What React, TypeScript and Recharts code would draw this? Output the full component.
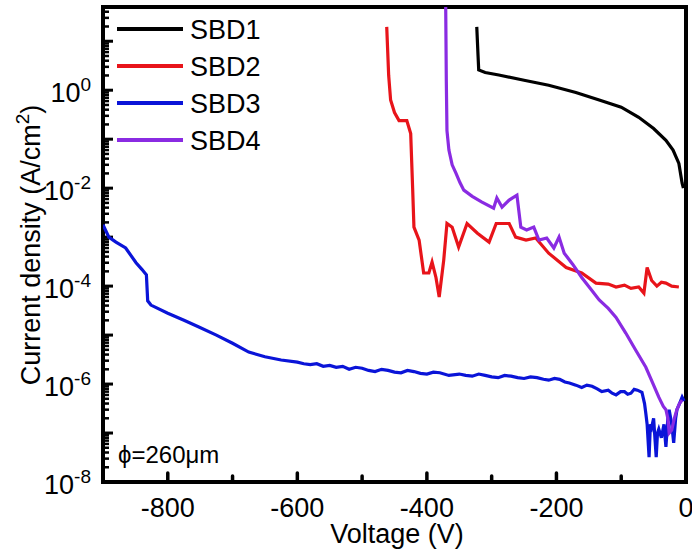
import React from 'react';
import {
  Customized,
  Line,
  LineChart,
  XAxis,
  YAxis,
} from 'recharts';

const seriesNames = ['SBD1', 'SBD2', 'SBD3', 'SBD4'];
const seriesColors = ['#000000', '#e8141a', '#0a14d8', '#8a2be2'];

const sbd1V = [-323, -321, -320, -310, -289, -250, -212, -170, -134, -100, -73, -50, -31, -20, -11, -6, -4];
const sbd1J = [19.6, 5, 2.6, 2.3, 2.04, 1.6, 1.26, 0.9, 0.63, 0.45, 0.28, 0.165, 0.095, 0.06, 0.032, 0.0126, 0.01];

const sbd2V = [-462, -459, -456, -450, -443, -431, -425, -422, -420, -412, -405, -397, -392, -386, -381, -374, -369, -361, -351, -338, -322, -304, -293, -273, -263, -247, -232, -212, -185, -161, -139, -120, -108, -95, -85, -73, -65, -60, -53, -45, -38, -31, -22, -11];
const sbd2J = [19.6, 2, 0.63, 0.35, 0.24, 0.24, 0.13, 0.01, 1.6e-3, 8.7e-4, 1.85e-4, 1.85e-4, 3.1e-4, 1.5e-4, 6e-5, 3.4e-4, 1.9e-3, 1.6e-3, 6.3e-4, 1.9e-3, 1.2e-3, 7.9e-4, 1.9e-3, 1.9e-3, 1e-3, 8.7e-4, 9.6e-4, 4.7e-4, 2.4e-4, 1.85e-4, 1.15e-4, 1.1e-4, 9.6e-5, 1.05e-4, 9e-5, 9.6e-5, 7.2e-5, 2.4e-4, 1.3e-4, 1e-4, 1.2e-4, 1.15e-4, 1e-4, 9.6e-5];

const sbd3V = [-900, -891, -880, -865, -849, -840, -836, -833, -831, -826, -800, -775, -752, -725, -700, -675, -650, -625, -600, -590, -580, -570, -560, -550, -540, -530, -520, -510, -500, -490, -480, -470, -460, -450, -440, -430, -420, -410, -400, -390, -380, -366, -350, -340, -330, -320, -310, -300, -290, -280, -270, -260, -250, -240, -230, -220, -212, -203, -195, -187, -180, -170, -161, -153, -145, -137, -130, -120, -114, -108, -101, -95, -90, -85, -80, -75, -68, -64, -62, -60, -57, -55, -53, -50, -46, -44, -42, -38, -34, -31, -28, -26, -22, -19, -16, -14, -10, -6, -3];
const sbd3J = [1.8e-3, 1e-3, 7.9e-4, 6e-4, 3e-4, 2.2e-4, 1.9e-4, 1.7e-4, 5e-5, 4.1e-5, 2.8e-5, 2e-5, 1.46e-5, 1e-5, 6.8e-6, 4.5e-6, 3.6e-6, 3.1e-6, 2.8e-6, 2.6e-6, 2.5e-6, 2.6e-6, 2.3e-6, 2.4e-6, 2.2e-6, 2.3e-6, 2e-6, 2.2e-6, 2.1e-6, 1.9e-6, 1.8e-6, 2e-6, 1.9e-6, 1.75e-6, 1.7e-6, 1.9e-6, 1.8e-6, 1.65e-6, 1.6e-6, 1.75e-6, 1.7e-6, 1.5e-6, 1.6e-6, 1.5e-6, 1.45e-6, 1.6e-6, 1.5e-6, 1.4e-6, 1.35e-6, 1.5e-6, 1.45e-6, 1.35e-6, 1.3e-6, 1.4e-6, 1.35e-6, 1.25e-6, 1.2e-6, 1.3e-6, 1.25e-6, 1.1e-6, 1.05e-6, 9.5e-7, 8.5e-7, 9.5e-7, 9e-7, 8e-7, 7e-7, 7.5e-7, 6.5e-7, 6e-7, 7e-7, 7e-7, 6.2e-7, 6.5e-7, 7.8e-7, 7.5e-7, 6.8e-7, 4e-7, 2.5e-7, 1.5e-7, 3.2e-8, 1.5e-7, 1.3e-7, 2e-7, 3.2e-8, 1e-7, 1.2e-7, 8e-8, 1.5e-7, 5.2e-8, 2e-7, 3e-7, 1.5e-7, 6.3e-8, 2e-7, 3e-7, 4e-7, 5.4e-7, 4.5e-7];

const sbd4V = [-371, -370, -369, -366, -361, -355, -349, -343, -330, -315, -297, -292, -284, -273, -261, -255, -246, -235, -227, -215, -204, -196, -188, -175, -161, -148, -134, -120, -108, -93, -78, -62, -52, -42, -35, -31, -28, -26, -22, -18, -14, -10, -6];
const sbd4J = [60, 1.5, 0.15, 0.06, 0.03, 0.02, 0.013, 9.1e-3, 6.8e-3, 5.2e-3, 3.9e-3, 6.3e-3, 4.1e-3, 5.7e-3, 7.2e-3, 1.6e-3, 1.4e-3, 1.6e-3, 8.7e-4, 9.6e-4, 6e-4, 1e-3, 4.7e-4, 2.8e-4, 1.5e-4, 9e-5, 5.2e-5, 3.5e-5, 2.3e-5, 1.1e-5, 5e-6, 2.2e-6, 1.1e-6, 5.4e-7, 3.5e-7, 3e-7, 2e-7, 1e-7, 1.15e-7, 2e-7, 3e-7, 4e-7, 4.7e-7];

const xTicks = [-800, -700, -600, -500, -400, -300, -200, -100, 0];
const decades = [-8, -7, -6, -5, -4, -3, -2, -1, 0, 1];

const seriesV = [sbd1V, sbd2V, sbd3V, sbd4V];
const seriesJ = [sbd1J, sbd2J, sbd3J, sbd4J];

const FONT = '"Liberation Sans", Arial, sans-serif';
const CHART_W = 692;
const CHART_H = 552;
const PLOT_LEFT = 103;
const PLOT_RIGHT = 686;
const PLOT_TOP = 7;
const PLOT_BOTTOM = 482;
const X_DOMAIN = [-900, 0];
const Y_DOMAIN = [1e-8, 50];

// same linear / log mapping as the axes, for the inward tick marks
const xPix = (v: number) =>
  PLOT_LEFT + ((v - X_DOMAIN[0]) / (X_DOMAIN[1] - X_DOMAIN[0])) * (PLOT_RIGHT - PLOT_LEFT);
const yPix = (j: number) => {
  const lo = Math.log10(Y_DOMAIN[0]);
  const hi = Math.log10(Y_DOMAIN[1]);
  return PLOT_BOTTOM - ((Math.log10(j) - lo) / (hi - lo)) * (PLOT_BOTTOM - PLOT_TOP);
};

const yMinorTicks: number[] = [];
decades.forEach((d) => {
  for (let m = 2; m <= 9; m++) {
    const v = m * Math.pow(10, d);
    if (v <= Y_DOMAIN[1]) yMinorTicks.push(v);
  }
});
const yMajorTicks = decades.map((d) => Math.pow(10, d));
const yLabelTicks = yMajorTicks.filter((_, i) => decades[i] % 2 === 0 && decades[i] <= 0);

const YTick = (props: any) => {
  const { y, payload } = props;
  const exp = Math.round(Math.log10(payload.value));
  return (
    <text x={91} y={y + 12} textAnchor="end" fontFamily={FONT} fontSize={27} fill="#000">
      <tspan>10</tspan>
      <tspan dy={-11} fontSize={19}>{String(exp)}</tspan>
    </text>
  );
};

const XTick = (props: any) => {
  const { x, payload } = props;
  return (
    <text x={x} y={517} textAnchor="middle" fontFamily={FONT} fontSize={27} fill="#000">
      {String(payload.value)}
    </text>
  );
};

const Decorations = () => (
  <g fontFamily={FONT} fill="#000">
    {yMajorTicks.map((t) => (
      <line key={`ym${t}`} x1={PLOT_LEFT} x2={PLOT_LEFT + 10} y1={yPix(t)} y2={yPix(t)} stroke="#000" strokeWidth={3} />
    ))}
    {yMinorTicks.map((t) => (
      <line key={`yn${t}`} x1={PLOT_LEFT} x2={PLOT_LEFT + 6} y1={yPix(t)} y2={yPix(t)} stroke="#000" strokeWidth={2.5} />
    ))}
    {xTicks.map((t) => (
      <line
        key={`x${t}`}
        x1={xPix(t)}
        x2={xPix(t)}
        y1={PLOT_BOTTOM}
        y2={PLOT_BOTTOM - (t % 200 === 0 ? 9 : 6)}
        stroke="#000"
        strokeWidth={3.5}
        strokeLinecap="round"
      />
    ))}
    <rect
      x={PLOT_LEFT}
      y={PLOT_TOP}
      width={PLOT_RIGHT - PLOT_LEFT}
      height={PLOT_BOTTOM - PLOT_TOP}
      fill="none"
      stroke="#000"
      strokeWidth={4}
    />
    {seriesNames.map((name, i) => (
      <g key={name}>
        <line x1={117} x2={183} y1={29 + i * 37} y2={29 + i * 37} stroke={seriesColors[i]} strokeWidth={4} />
        <text x={190} y={29 + i * 37 + 10} fontSize={27}>
          {name}
        </text>
      </g>
    ))}
    <text x={118} y={463} fontSize={24}>
      ϕ=260μm
    </text>
    <text x={397} y={543} fontSize={27} textAnchor="middle">
      Voltage (V)
    </text>
    <text transform="translate(40,245) rotate(-90)" fontSize={27} textAnchor="middle">
      <tspan>Current density (A/cm</tspan>
      <tspan dy={-11} fontSize={19}>2</tspan>
      <tspan dy={11}>)</tspan>
    </text>
  </g>
);

export default function App() {
  const lines = seriesNames.map((name, i) => ({
    name,
    color: seriesColors[i],
    data: seriesV[i].map((v, k) => ({ v, j: seriesJ[i][k] })),
  }));

  return (
    <div style={{ position: 'absolute', left: 0, top: 0, width: CHART_W, height: CHART_H, background: '#fff' }}>
      <LineChart
        width={CHART_W}
        height={CHART_H}
        margin={{ top: PLOT_TOP, right: CHART_W - PLOT_RIGHT, bottom: 0, left: 0 }}
      >
        <XAxis
          dataKey="v"
          type="number"
          domain={X_DOMAIN}
          ticks={xTicks.filter((t) => t % 200 === 0)}
          interval={0}
          height={CHART_H - PLOT_BOTTOM}
          tickLine={false}
          axisLine={false}
          tick={<XTick />}
          allowDataOverflow
        />
        <YAxis
          type="number"
          scale="log"
          domain={Y_DOMAIN}
          ticks={yLabelTicks}
          interval={0}
          width={PLOT_LEFT}
          tickLine={false}
          axisLine={false}
          tick={<YTick />}
          allowDataOverflow
        />
        {lines.map((s) => (
          <Line
            key={s.name}
            data={s.data}
            dataKey="j"
            name={s.name}
            type="linear"
            stroke={s.color}
            strokeWidth={3.2}
            dot={false}
            isAnimationActive={false}
          />
        ))}
        <Customized component={Decorations} />
      </LineChart>
    </div>
  );
}
